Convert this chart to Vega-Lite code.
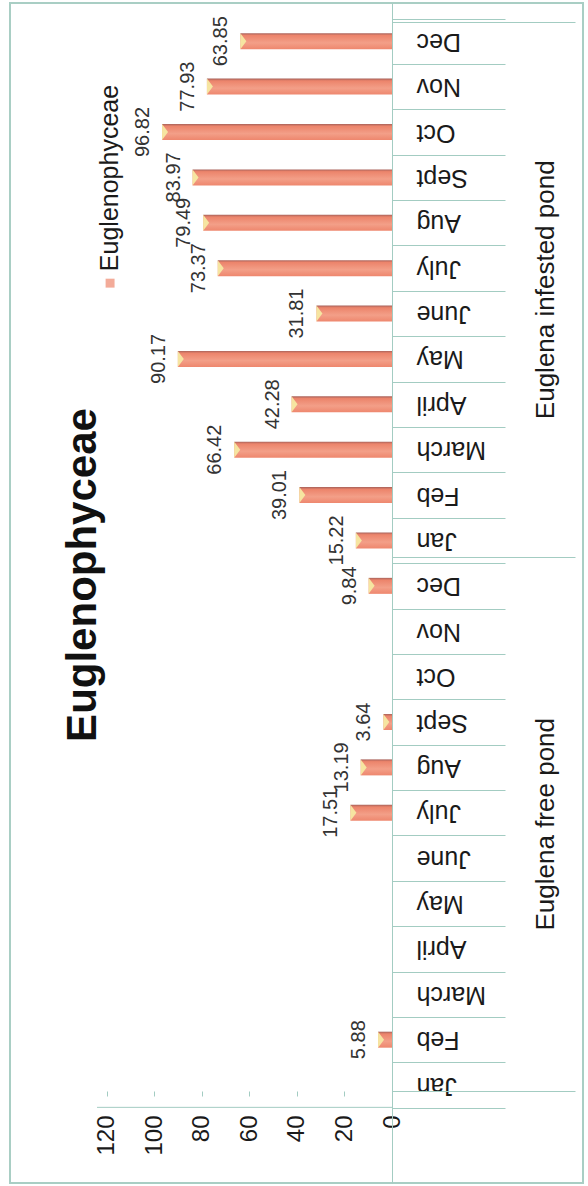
{
  "$schema": "https://vega.github.io/schema/vega-lite/v6.json",
  "width": 573,
  "height": 1180,
  "autosize": {"type": "none"},
  "padding": {"left": 10, "top": 3, "right": 5, "bottom": 3},
  "background": "white",
  "config": {
    "view": {"stroke": "#a9cec4", "strokeWidth": 2},
    "font": "Liberation Sans"
  },
  "title": {
    "text": "Euglenophyceae",
    "orient": "left",
    "anchor": "middle",
    "offset": -95,
    "dx": 18,
    "fontSize": 42,
    "fontWeight": "bold",
    "color": "#111111",
    "font": "Liberation Sans"
  },
  "datasets": {
    "counts": [
      {"pond": "Euglena infested pond", "month": "Dec", "value": 63.85},
      {"pond": "Euglena infested pond", "month": "Nov", "value": 77.93},
      {"pond": "Euglena infested pond", "month": "Oct", "value": 96.82},
      {"pond": "Euglena infested pond", "month": "Sept", "value": 83.97},
      {"pond": "Euglena infested pond", "month": "Aug", "value": 79.49},
      {"pond": "Euglena infested pond", "month": "July", "value": 73.37},
      {"pond": "Euglena infested pond", "month": "June", "value": 31.81},
      {"pond": "Euglena infested pond", "month": "May", "value": 90.17},
      {"pond": "Euglena infested pond", "month": "April", "value": 42.28},
      {"pond": "Euglena infested pond", "month": "March", "value": 66.42},
      {"pond": "Euglena infested pond", "month": "Feb", "value": 39.01},
      {"pond": "Euglena infested pond", "month": "Jan", "value": 15.22},
      {"pond": "Euglena free pond", "month": "Dec", "value": 9.84},
      {"pond": "Euglena free pond", "month": "Nov", "value": 0},
      {"pond": "Euglena free pond", "month": "Oct", "value": 0},
      {"pond": "Euglena free pond", "month": "Sept", "value": 3.64},
      {"pond": "Euglena free pond", "month": "Aug", "value": 13.19},
      {"pond": "Euglena free pond", "month": "July", "value": 17.51},
      {"pond": "Euglena free pond", "month": "June", "value": 0},
      {"pond": "Euglena free pond", "month": "May", "value": 0},
      {"pond": "Euglena free pond", "month": "April", "value": 0},
      {"pond": "Euglena free pond", "month": "March", "value": 0},
      {"pond": "Euglena free pond", "month": "Feb", "value": 5.88},
      {"pond": "Euglena free pond", "month": "Jan", "value": 0}
    ]
  },
  "data": {"name": "counts"},
  "transform": [{"calculate": "datum.pond + '|' + datum.month", "as": "key"}],
  "layer": [
    {
      "encoding": {
        "y": {
          "field": "key",
          "type": "nominal",
          "scale": {
            "domain": [
              "Euglena infested pond|Dec", "Euglena infested pond|Nov", "Euglena infested pond|Oct",
              "Euglena infested pond|Sept", "Euglena infested pond|Aug", "Euglena infested pond|July",
              "Euglena infested pond|June", "Euglena infested pond|May", "Euglena infested pond|April",
              "Euglena infested pond|March", "Euglena infested pond|Feb", "Euglena infested pond|Jan",
              "Euglena free pond|Dec", "Euglena free pond|Nov", "Euglena free pond|Oct",
              "Euglena free pond|Sept", "Euglena free pond|Aug", "Euglena free pond|July",
              "Euglena free pond|June", "Euglena free pond|May", "Euglena free pond|April",
              "Euglena free pond|March", "Euglena free pond|Feb", "Euglena free pond|Jan"
            ],
            "paddingInner": 0,
            "paddingOuter": 1.246,
            "align": 0.1712
          },
          "axis": {
            "orient": "right",
            "offset": -191,
            "title": null,
            "grid": false,
            "labelExpr": "split(datum.label, '|')[1]",
            "labelAngle": 180,
            "labelAlign": "right",
            "labelBaseline": "middle",
            "labelPadding": -89,
            "labelFontSize": 25,
            "labelColor": "#1a1a1a",
            "labelFont": "Liberation Sans",
            "labelOverlap": false,
            "labelBound": false,
            "tickBand": "extent",
            "tickSize": 113,
            "tickColor": "#a3ccc2",
            "domainColor": "#a3ccc2"
          }
        }
      },
      "layer": [
        {
          "mark": {
            "type": "bar",
            "height": 16,
            "fill": {
              "x1": 0, "y1": 0, "x2": 0, "y2": 1,
              "gradient": "linear",
              "stops": [
                {"offset": 0, "color": "#a8625a"},
                {"offset": 0.14, "color": "#ec846b"},
                {"offset": 0.6, "color": "#f39f88"},
                {"offset": 1, "color": "#ee876e"}
              ]
            }
          },
          "encoding": {
            "x": {
              "field": "value",
              "type": "quantitative",
              "scale": {"domain": [-80.42, 160.84], "reverse": true, "nice": false, "zero": false},
              "axis": {
                "orient": "bottom",
                "offset": -92,
                "title": null,
                "values": [0, 20, 40, 60, 80, 100, 120],
                "domain": false,
                "grid": false,
                "tickSize": 5,
                "tickColor": "#a3ccc2",
                "labelAngle": 270,
                "labelAlign": "right",
                "labelBaseline": "middle",
                "labelPadding": 19,
                "labelFontSize": 24,
                "labelColor": "#1a1a1a",
                "labelFlush": false,
                "labelOverlap": false
              }
            },
            "x2": {"datum": 0}
          }
        },
        {
          "transform": [{"filter": "datum.value > 0"}],
          "mark": {
            "type": "point",
            "shape": "M0,-1L0.75,0L0,1Z",
            "filled": true,
            "size": 256,
            "color": "#f6e9a2",
            "opacity": 0.95,
            "strokeWidth": 0
          },
          "encoding": {"x": {"field": "value", "type": "quantitative"}}
        },
        {
          "transform": [{"filter": "datum.value > 0"}],
          "mark": {
            "type": "text",
            "angle": 270,
            "align": "center",
            "baseline": "middle",
            "xOffset": -19,
            "fontSize": 20,
            "color": "#333333"
          },
          "encoding": {
            "x": {"field": "value", "type": "quantitative"},
            "text": {"field": "value", "type": "quantitative", "format": ".2f"}
          }
        },
        {
          "data": {"values": [{"series": "Euglenophyceae"}]},
          "mark": {"type": "point", "shape": "square", "filled": true, "size": 80, "color": "#ee876e", "yOffset": 15},
          "encoding": {
            "x": {"datum": 118.7},
            "y": {"datum": "Euglena infested pond|July"}
          }
        },
        {
          "data": {"values": [{"series": "Euglenophyceae"}]},
          "mark": {
            "type": "text",
            "angle": 270,
            "align": "left",
            "baseline": "middle",
            "yOffset": 3,
            "fontSize": 25,
            "color": "#1a1a1a"
          },
          "encoding": {
            "x": {"datum": 118.7},
            "y": {"datum": "Euglena infested pond|July"},
            "text": {"field": "series"}
          }
        },
        {
          "data": {"values": [{"edge": "baseline"}]},
          "mark": {"type": "rule", "color": "#a3ccc2", "strokeWidth": 1, "yOffset": 22.27},
          "encoding": {
            "x": {"datum": 124.2},
            "x2": {"datum": 0},
            "y": {"datum": "Euglena free pond|Jan"}
          }
        }
      ]
    },
    {
      "mark": {"type": "point", "opacity": 0},
      "encoding": {
        "x": {"datum": 0},
        "y": {
          "field": "pond",
          "type": "nominal",
          "scale": {
            "domain": ["Euglena infested pond", "Euglena free pond"],
            "paddingInner": 0,
            "paddingOuter": 0.10384,
            "align": 0.1712
          },
          "axis": {
            "orient": "right",
            "offset": -191,
            "title": null,
            "grid": false,
            "domain": false,
            "tickBand": "extent",
            "tickSize": 183,
            "tickColor": "#a3ccc2",
            "labelAngle": 270,
            "labelAlign": "center",
            "labelBaseline": "middle",
            "labelPadding": -30,
            "labelFontSize": 26,
            "labelLimit": 0,
            "labelColor": "#1a1a1a",
            "labelFont": "Liberation Sans",
            "labelOverlap": false,
            "labelBound": false
          }
        }
      }
    }
  ],
  "resolve": {"scale": {"y": "independent"}, "axis": {"y": "independent"}}
}
